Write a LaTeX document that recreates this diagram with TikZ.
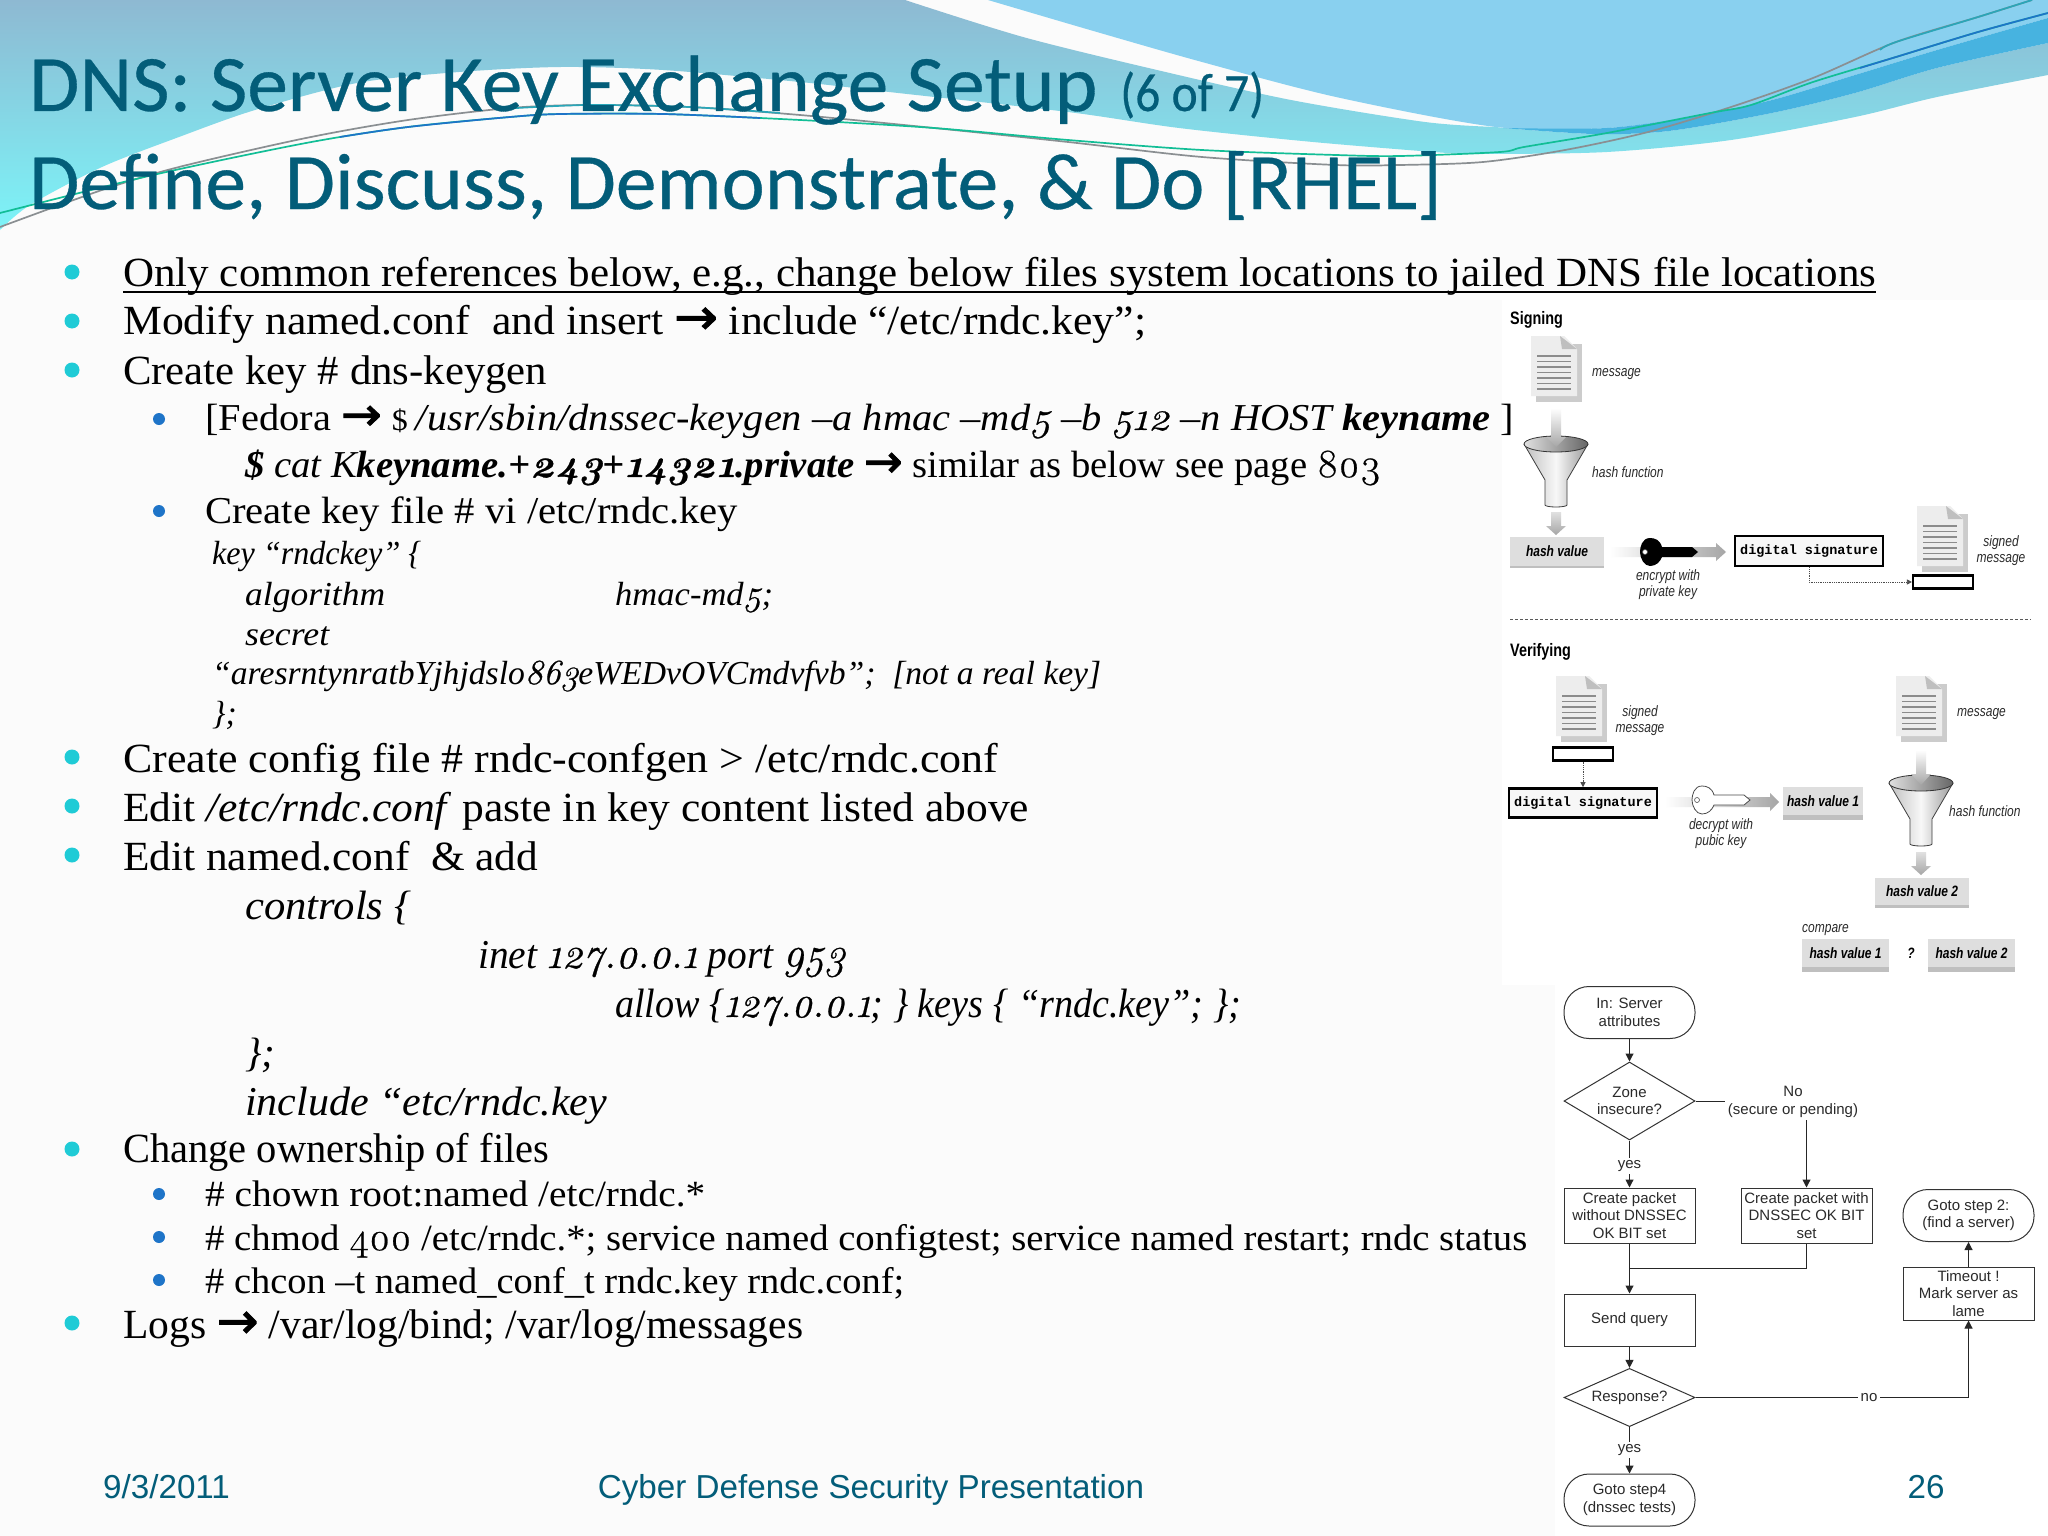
\documentclass[tikz,border=0pt]{standalone}
\usepackage{fontspec}
\usepackage{graphicx}
\usetikzlibrary{arrows.meta,shapes.geometric,calc}
\setmainfont{Liberation Serif}
\newfontfamily\oldfig[Numbers=OldStyle,FakeBold=0.6,Scale=1.05]{Latin Modern Roman}
\newfontfamily\arrowfont[FakeBold=2]{DejaVu Sans}
\newfontfamily\titlefont[FakeBold=0.4]{Carlito}
\newfontfamily\footfont{Liberation Sans}
\newfontfamily\narrowfont[FakeStretch=0.8]{Liberation Sans}
\newfontfamily\monofont{Liberation Mono}
\newcommand{\os}[1]{{\oldfig #1}}
\newcommand{\ar}{{\arrowfont\scalebox{1.2}{→}}}
\newcommand{\sz}[1]{\fontsize{#1}{#1}\selectfont}
\newcommand{\fitw}[2]{\resizebox{#1pt}{\height}{#2}}
\definecolor{titleblue}{HTML}{035D79}
\definecolor{bullteal}{HTML}{1FCBD6}
\definecolor{bullblue}{HTML}{1E74C8}
\definecolor{skyb}{HTML}{89D0EF}
\definecolor{darkb}{HTML}{47B3E0}
\definecolor{pagebg}{HTML}{FBFBFB}
\definecolor{inkgray}{HTML}{2A2A2A}
\definecolor{wavetop}{HTML}{8EB9D2}
\definecolor{wavemid}{HTML}{7AD9E6}
\definecolor{wavebot}{HTML}{7CF4F8}
\definecolor{linegreen}{HTML}{12BE96}
\definecolor{linegray}{HTML}{8A8F92}
\definecolor{lineteal}{HTML}{2AA6B8}
\tikzset{
  x=1pt,y=-1pt,
  lone/.style={anchor=base west,inner sep=0pt,font=\sz{41.5},text=black},
  ltwo/.style={anchor=base west,inner sep=0pt,font=\sz{38},text=black},
  lthree/.style={anchor=base west,inner sep=0pt,font=\sz{37},text=black},
  lcode/.style={anchor=base west,inner sep=0pt,font=\sz{33.5}\itshape,text=black},
  lbig/.style={anchor=base west,inner sep=0pt,font=\sz{41}\itshape,text=black},
  titletext/.style={anchor=base west,inner sep=0pt,text=titleblue,font=\titlefont\sz{80}},
  foot/.style={anchor=base,inner sep=0pt,text=titleblue,font=\footfont\sz{33.2}},
  bullone/.style={circle,fill=bullteal,inner sep=0pt,minimum size=15pt},
  bulltwo/.style={circle,fill=bullblue,inner sep=0pt,minimum size=12pt},
  capleft/.style={anchor=west,inner sep=0pt,text=inkgray,font=\narrowfont\itshape\sz{15}},
  capc/.style={anchor=center,inner sep=0pt,align=center,text=inkgray,font=\fontsize{15}{16}\selectfont\narrowfont\itshape},
  hd/.style={anchor=west,inner sep=0pt,text=black,font=\narrowfont\bfseries\sz{18}},
  hashbox/.style={draw=none,fill=black!13,inner sep=0pt,text=black,font=\narrowfont\bfseries\itshape\sz{15}},
  sigbox/.style={draw=black,line width=2.6pt,fill=black!3,inner sep=0pt,text=black,font=\monofont\bfseries\sz{13.5}},
  tinybox/.style={draw=black,line width=2.2pt,fill=white,inner sep=0pt,minimum width=60pt,minimum height=13pt},
  fbox/.style={draw=black!80,line width=1pt,fill=white,inner sep=0pt,minimum width=131pt,align=center,text=inkgray,font=\footfont\fontsize{15}{17.5}\selectfont},
  fterm/.style={fbox,rounded corners=25pt,minimum height=52pt},
  fdia/.style={draw=black!80,line width=1pt,fill=white,diamond,inner sep=0pt,aspect=1.7,align=center,text=inkgray,font=\footfont\fontsize{15}{17}\selectfont},
  flab/.style={inner sep=2.5pt,align=center,text=inkgray,font=\footfont\fontsize{15}{18}\selectfont},
  flow/.style={draw=black!85,line width=1pt},
  flowar/.style={flow,-{Triangle[length=8pt,width=8pt]}},
  dotar/.style={draw=black!70,line width=.8pt,densely dotted,-{Triangle[length=5pt,width=5pt]}},
  docpic/.pic={
    \fill[black!20] (5,8)--(51,8)--(51,66)--(5,66)--cycle;
    \fill[black!7] (0,0)--(33,0)--(46,13)--(46,60)--(0,60)--cycle;
    \fill[black!25] (29,0)--(46,13)--(31,13)--cycle;
    \foreach \q in {20,25.5,31,36.5,42,47.5,53}{\draw[black!45,line width=1.1pt] (6,\q)--(40,\q);}
  },
  funnelpic/.pic={
    \shade[left color=black!25,right color=black!40,middle color=black!3] (-32,0)--(-11,36)--(-11,61) arc[start angle=180,end angle=0,x radius=11,y radius=2]--(11,36)--(32,0)--cycle;
    \draw[black!75,line width=.8pt] (-32,0)--(-11,36)--(-11,61) arc[start angle=180,end angle=0,x radius=11,y radius=2]--(11,36)--(32,0);
    \shade[left color=black!12,right color=black!60,draw=black!80,line width=.8pt] (0,0) ellipse[x radius=32,y radius=8];
  },
  keypic/.pic={
    \path[pic actions] (10,-5) .. controls (8,-12) and (3,-14) .. (-2,-14) .. controls (-10,-14) and (-12,-5) .. (-12,0) .. controls (-12,6) and (-8,14) .. (-2,14) .. controls (4,14) and (8,10) .. (10,5) -- (40,5) -- (46,0) -- (40,-5) -- cycle;
    \draw[black!70,fill=white,line width=.6pt] (-7,0) circle[radius=2.5];
  }
}
\begin{document}
\begin{tikzpicture}
\useasboundingbox (0,0) rectangle (2048,1536);
% page
\fill[pagebg] (0,0) rectangle (2048,1536);
\fill[white] (1502,300) rectangle (2048,985);
\fill[white] (1555,985) rectangle (2048,1536);
% waves
\shade[top color=wavetop,middle color=wavemid,bottom color=wavebot]
  (0,0)--(905,0)--plot[smooth,tension=.5] coordinates {(905,0)(1023,37)(1157,70)(1291,100)(1425,122)(1496,127)}
  --plot[smooth,tension=.5] coordinates {(1503,128)(1594,134)(1669,131)(1772,113)(1855,93)(1937,68)(2048,43)}
  --plot[smooth,tension=.5] coordinates {(2048,75)(1937,97)(1855,117)(1731,140)(1607,152)(1483,154)(1447,153)(1313,142)(1179,128)(1068,112)(889,92)(800,82)(663,70)(561,67)(459,72)(357,83)(255,110)(179,137)(102,167)(30,205)(0,230)}--cycle;
\fill[skyb] (988,0)--plot[smooth,tension=.5] coordinates {(988,0)(1090,30)(1202,62)(1336,97)(1496,127)(1607,128)(1689,117)(1772,100)(1855,75)(1937,50)(2048,18)}--(2048,0)--cycle;
\fill[darkb] plot[smooth,tension=.5] coordinates {(1503,128)(1594,134)(1669,131)(1772,113)(1855,93)(1937,68)(2048,43)}
   --plot[smooth,tension=.5] coordinates {(2048,18)(1937,50)(1855,75)(1772,100)(1689,117)(1607,128)(1503,128)}--cycle;
% gray line, then green/blue line with their colour changes
\draw[linegray,line width=1.7pt] plot[smooth,tension=.5] coordinates {(0,227)(102,190)(179,167)(306,138)(408,120)(510,108)(587,105)(689,107)(800,115)(934,128)(1068,142)(1202,157)(1336,165)(1400,165)(1483,162)(1565,150)(1648,132)(1731,107)(1813,78)(1896,42)(1978,17)(2032,0)};
\draw[lineteal,line width=1.7pt] plot[smooth,tension=.5] coordinates {(1880,50)(1896,42)(1978,17)(2032,0)};
\draw[lineteal,line width=1.7pt] plot[smooth,tension=.5] coordinates {(500,109)(587,105)(689,107)(780,113)};
\draw[linegreen,line width=1.7pt] plot[smooth,tension=.5] coordinates {(0,213)(153,175)(306,143)(408,127)(510,117)(561,114)(663,114)(800,120)(934,128)(1068,140)(1202,150)(1336,155)(1400,156)(1500,152)(1524,147)(1607,133)(1710,113)(1751,105)(1813,82)(1896,57)(1978,32)(2048,13)};
\draw[bullblue,line width=1.7pt] plot[smooth,tension=.5] coordinates {(340,137)(408,127)(510,117)(561,114)(663,114)(760,118)};
\draw[bullblue,line width=1.7pt] plot[smooth,tension=.5] coordinates {(1860,68)(1896,57)(1978,32)(2048,13)};
% title
\node[titletext] (t1) at (29,111) {\fitw{1068}{DNS: Server Key Exchange Setup}\hspace{23pt}\fitw{144}{\sz{54}(6 of 7)}};
\node[titletext] (t2) at (29,209) {\fitw{1413}{Define, Discuss, Demonstrate, \& Do [RHEL]}};
% bullets
\foreach \b [count=\i] in {272,321,370,757,806,855,1149,1323}{\node[bullone] (ba\i) at (72,\b) {};}
\foreach \b [count=\i] in {419,511,1194,1237,1280}{\node[bulltwo] (bb\i) at (159,\b) {};}
% body
\node[lone] (l1) at (123,286) {\fitw{1753}{Only common references below, e.g., change below files system locations to jailed DNS file locations}};
\draw[black,line width=2pt] ($(l1.base west)+(0,5.5)$) -- ($(l1.base east)+(0,5.5)$);
\node[lone] (l2) at (123,334) {\fitw{1023}{Modify named.conf\ \ and insert \ar{} include “/etc/rndc.key”;}};
\node[lone] (l3) at (123,384) {\fitw{424}{Create key \# dns-keygen}};
\node[ltwo] (l4) at (205,430) {\fitw{1309}{[Fedora \ar{} \sz{30}\$ \sz{38}\itshape /usr/sbin/dnssec-keygen –a hmac –md\os{5} –b \os{512} –n HOST \bfseries keyname \mdseries\upshape ]}};
\node[ltwo] (l5) at (245,477) {\fitw{1136}{{\itshape\bfseries\$ \mdseries cat K\bfseries keyname.+\os{243}+\os{14321}.private} \ar{} similar as below see page \os{803}}};
\node[ltwo] (l6) at (205,523) {\fitw{533}{Create key file \# vi /etc/rndc.key}};
\node[lcode] (c1) at (212,564) {\fitw{209}{key “rndckey” \{}};
\node[lcode] (c2) at (245,605) {\fitw{140}{algorithm}};
\node[lcode] (c3) at (615,605) {\fitw{158}{hmac-md\os{5};}};
\node[lcode] (c4) at (245,645) {\fitw{84}{secret}};
\node[lcode] (c5) at (212,684) {\fitw{889}{“aresrntynratbYjhjdslo\os{863}eWEDvOVCmdvfvb”;\ \ [not a real key]}};
\node[lcode] (c6) at (212,724) {\};};
\node[lone] (l7) at (123,772) {\fitw{875}{Create config file \# rndc-confgen > /etc/rndc.conf}};
\node[lone] (l8) at (123,821) {\fitw{906}{Edit \emph{/etc/rndc.conf} paste in key content listed above}};
\node[lone] (l9) at (123,870) {\fitw{415}{Edit named.conf\ \ \& add}};
\node[lbig] (n1) at (245,919) {\fitw{166}{controls \{}};
\node[lbig] (n2) at (478,968) {\fitw{367}{inet \os{127.0.0.1} port \os{953}}};
\node[lbig] (n3) at (615,1017) {\fitw{626}{allow \{\os{127.0.0.1}; \} keys \{ “rndc.key”; \};}};
\node[lbig] (n4) at (245,1066) {\};};
\node[lbig] (n5) at (245,1115) {\fitw{362}{include “etc/rndc.key}};
\node[lone] (l10) at (123,1162) {\fitw{426}{Change ownership of files}};
\node[lthree] (l11) at (205,1206) {\fitw{500}{\# chown root:named /etc/rndc.*}};
\node[lthree] (l12) at (205,1250) {\fitw{1322}{\# chmod \os{400} /etc/rndc.*; service named configtest; service named restart; rndc status}};
\node[lthree] (l13) at (205,1293) {\fitw{699}{\# chcon –t named\_conf\_t rndc.key rndc.conf;}};
\node[lone] (l14) at (123,1338) {\fitw{680}{Logs \ar{} /var/log/bind; /var/log/messages}};
% footer
\node[foot,anchor=base west] (f1) at (103,1498) {9/3/2011};
\node[foot] (f2) at (871,1498) {Cyber Defense Security Presentation};
\node[foot] (f3) at (1926,1498) {26};
% ---- signing
\node[hd] (signing) at (1510,320) {Signing};
\pic at (1531,336) {docpic};
\node[capleft] (cm1) at (1592,374) {message};
\pic at (1556,444) {funnelpic};
\shade[top color=white,bottom color=black!35] (1551,408)--(1561,408)--(1561,437)--(1566,437)--(1556,447)--(1546,437)--(1551,437)--cycle;
\shade[top color=black!12,bottom color=black!35] (1551,512)--(1561,512)--(1561,526)--(1566,526)--(1556,535)--(1546,526)--(1551,526)--cycle;
\node[capleft] (cf1) at (1592,472) {hash function};
\fill[black!25] (1510,538) rectangle (1604,568);
\node[hashbox,minimum width=94pt,minimum height=29pt] (hv) at (1557,551) {hash value};
\shade[left color=white,right color=black!35] (1610,547)--(1716,547)--(1716,543)--(1726,552)--(1716,561)--(1716,557)--(1610,557)--cycle;
\pic[fill=black] at (1652,552) {keypic};
\node[capc] (cen) at (1668,585) {encrypt with\\private key};
\node[sigbox,minimum width=148pt,minimum height=30pt] (ds1) at (1809,551) {digital signature};
\pic at (1917,506) {docpic};
\node[tinybox] (tb1) at (1943,582) {};
\node[capc] (csm1) at (2001,551) {signed\\message};
\draw[dotar] (ds1.south) |- (tb1.west);
\coordinate (dl) at (1510,619); \coordinate (dr) at (2031,619);
\draw[black!65,line width=1pt,densely dashed] (dl) -- (dr);
% ---- verifying
\node[hd] (verifying) at (1510,652) {Verifying};
\pic at (1556,676) {docpic};
\node[capc] (csm2) at (1640,721) {signed\\message};
\node[tinybox] (tb2) at (1583,754) {};
\node[sigbox,minimum width=148pt,minimum height=29pt] (ds2) at (1583,803) {digital signature};
\draw[dotar] (tb2.south) -- (ds2.north);
\shade[left color=white,right color=black!35] (1665,797)--(1770,797)--(1770,793)--(1779,802)--(1770,811)--(1770,807)--(1665,807)--cycle;
\pic[fill=white,draw=black!70,line width=.8pt] at (1704,800) {keypic};
\node[capc] (cde) at (1721,834) {decrypt with\\pubic key};
\fill[black!25] (1783,789) rectangle (1863,820);
\node[hashbox,minimum width=80pt,minimum height=28pt] (hv1) at (1823,801) {hash value 1};
\pic at (1896,676) {docpic};
\node[capleft] (cm2) at (1957,714) {message};
\pic at (1921,783) {funnelpic};
\shade[top color=white,bottom color=black!35] (1916,750)--(1926,750)--(1926,774)--(1931,774)--(1921,785)--(1911,774)--(1916,774)--cycle;
\node[capleft] (cf2) at (1949,811) {hash function};
\shade[top color=black!12,bottom color=black!35] (1916,852)--(1926,852)--(1926,866)--(1931,866)--(1921,875)--(1911,866)--(1916,866)--cycle;
\fill[black!25] (1875,880) rectangle (1969,908);
\node[hashbox,minimum width=94pt,minimum height=27pt] (hv2) at (1922,891) {hash value 2};
\node[capleft] (ccmp) at (1802,930) {compare};
\fill[black!25] (1802,943) rectangle (1889,972);
\node[hashbox,minimum width=87pt,minimum height=28pt] (hv3) at (1845.5,953) {hash value 1};
\node[inner sep=0pt,text=black,font=\narrowfont\bfseries\itshape\sz{15}] (qm) at (1911,953) {?};
\fill[black!25] (1928,943) rectangle (2015,972);
\node[hashbox,minimum width=87pt,minimum height=28pt] (hv4) at (1971.5,953) {hash value 2};
% ---- flowchart
\node[fterm] (start) at (1629.5,1012.5) {In: Server\\attributes};
\node[fdia,minimum width=131pt,minimum height=78pt] (zone) at (1629.5,1101) {Zone\\insecure?};
\node[flab] (nolab) at (1793,1102) {No\\(secure or pending)};
\node[flab] (yes1) at (1629.5,1166) {yes};
\node[fbox,minimum height=55pt] (cp1) at (1629.5,1215.5) {Create packet\\without DNSSEC\\OK BIT set};
\node[fbox,minimum height=55pt] (cp2) at (1806.5,1215.5) {Create packet with\\DNSSEC OK BIT\\set};
\node[fbox,minimum height=52pt] (send) at (1629.5,1320) {Send query};
\node[fdia,minimum width=131pt,minimum height=51pt] (resp) at (1629.5,1397.5) {Response?};
\node[flab] (yes2) at (1629.5,1450) {yes};
\node[fterm] (gs4) at (1629.5,1500) {Goto step4\\(dnssec tests)};
\node[flab] (nol) at (1869,1397.5) {no};
\node[fbox,minimum height=53pt] (tmo) at (1968.5,1293.5) {Timeout !\\Mark server as\\lame};
\node[fterm] (gs2) at (1968.5,1215.5) {Goto step 2:\\(find a server)};
\coordinate (jy) at (0,1268);
\coordinate (jn) at (cp1.south |- jy);
\draw[flowar] (start) -- (zone);
\draw[flow] (zone.east) -- (nolab.west |- zone.east);
\draw[flowar] (cp2.north |- nolab.south) -- (cp2.north);
\draw[flow] (zone.south) -- (yes1.north);
\draw[flowar] (yes1.south) -- (cp1.north);
\draw[flowar] (cp1.south) -- (send.north);
\draw[flow] (cp2.south) |- (jn);
\draw[flowar] (send.south) -- (resp.north);
\draw[flow] (resp.south) -- (yes2.north);
\draw[flowar] (yes2.south) -- (gs4.north);
\draw[flow] (resp.east) -- (nol.west);
\draw[flowar] (nol.east) -| (tmo.south);
\draw[flowar] (tmo.north) -- (gs2.south);
\end{tikzpicture}
\end{document}
